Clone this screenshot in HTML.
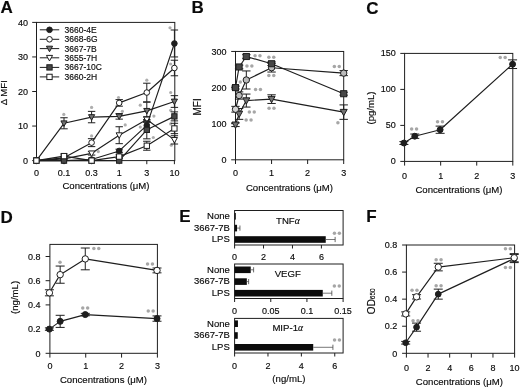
<!DOCTYPE html>
<html><head><meta charset="utf-8"><style>
html,body{margin:0;padding:0;background:#fff;}
body{width:520px;height:387px;overflow:hidden;}
svg{display:block;font-family:"Liberation Sans",sans-serif;will-change:transform;}
text{stroke:#0a0a0a;stroke-width:0.15px;}
</style></head><body>
<svg width="520" height="387" viewBox="0 0 520 387">
<rect width="520" height="387" fill="#fff"/>
<text x="0.40" y="12.79" font-size="17.0" text-anchor="start" font-weight="bold" fill="#0a0a0a">A</text>
<rect x="36.50" y="22.40" width="138.30" height="138.20" fill="none" stroke="#1e1e1e" stroke-width="1.0"/>
<line x1="32.20" y1="160.60" x2="36.50" y2="160.60" stroke="#1e1e1e" stroke-width="1.0"/>
<text x="28.00" y="163.82" font-size="9.0" text-anchor="end" font-weight="normal" fill="#0a0a0a">0</text>
<line x1="32.20" y1="126.05" x2="36.50" y2="126.05" stroke="#1e1e1e" stroke-width="1.0"/>
<text x="28.00" y="129.27" font-size="9.0" text-anchor="end" font-weight="normal" fill="#0a0a0a">10</text>
<line x1="32.20" y1="91.50" x2="36.50" y2="91.50" stroke="#1e1e1e" stroke-width="1.0"/>
<text x="28.00" y="94.72" font-size="9.0" text-anchor="end" font-weight="normal" fill="#0a0a0a">20</text>
<line x1="32.20" y1="56.95" x2="36.50" y2="56.95" stroke="#1e1e1e" stroke-width="1.0"/>
<text x="28.00" y="60.17" font-size="9.0" text-anchor="end" font-weight="normal" fill="#0a0a0a">30</text>
<line x1="32.20" y1="22.40" x2="36.50" y2="22.40" stroke="#1e1e1e" stroke-width="1.0"/>
<text x="28.00" y="25.62" font-size="9.0" text-anchor="end" font-weight="normal" fill="#0a0a0a">40</text>
<line x1="36.40" y1="160.60" x2="36.40" y2="164.20" stroke="#1e1e1e" stroke-width="1.0"/>
<text x="36.40" y="175.82" font-size="9.0" text-anchor="middle" font-weight="normal" fill="#0a0a0a">0</text>
<line x1="64.00" y1="160.60" x2="64.00" y2="164.20" stroke="#1e1e1e" stroke-width="1.0"/>
<text x="64.00" y="175.82" font-size="9.0" text-anchor="middle" font-weight="normal" fill="#0a0a0a">0.1</text>
<line x1="91.60" y1="160.60" x2="91.60" y2="164.20" stroke="#1e1e1e" stroke-width="1.0"/>
<text x="91.60" y="175.82" font-size="9.0" text-anchor="middle" font-weight="normal" fill="#0a0a0a">0.3</text>
<line x1="119.20" y1="160.60" x2="119.20" y2="164.20" stroke="#1e1e1e" stroke-width="1.0"/>
<text x="119.20" y="175.82" font-size="9.0" text-anchor="middle" font-weight="normal" fill="#0a0a0a">1</text>
<line x1="146.80" y1="160.60" x2="146.80" y2="164.20" stroke="#1e1e1e" stroke-width="1.0"/>
<text x="146.80" y="175.82" font-size="9.0" text-anchor="middle" font-weight="normal" fill="#0a0a0a">3</text>
<line x1="174.40" y1="160.60" x2="174.40" y2="164.20" stroke="#1e1e1e" stroke-width="1.0"/>
<text x="174.40" y="175.82" font-size="9.0" text-anchor="middle" font-weight="normal" fill="#0a0a0a">10</text>
<text x="106.00" y="189.44" font-size="9.6" text-anchor="middle" font-weight="normal" fill="#0a0a0a">Concentrations (&#956;M)</text>
<text transform="translate(4.00,92.70) rotate(-90)" x="0" y="3.44" font-size="9.6" text-anchor="middle" font-weight="normal" fill="#0a0a0a">&#916; MFI</text>
<circle cx="63.80" cy="114.40" r="1.6" fill="#aeaeae"/>
<circle cx="91.60" cy="107.40" r="1.6" fill="#aeaeae"/>
<circle cx="118.50" cy="97.50" r="1.6" fill="#aeaeae"/>
<circle cx="122.40" cy="111.30" r="1.6" fill="#aeaeae"/>
<circle cx="125.20" cy="124.90" r="1.6" fill="#aeaeae"/>
<circle cx="91.60" cy="135.90" r="1.6" fill="#aeaeae"/>
<circle cx="146.80" cy="80.20" r="1.6" fill="#aeaeae"/>
<circle cx="170.70" cy="64.00" r="1.6" fill="#aeaeae"/>
<circle cx="170.70" cy="92.50" r="1.6" fill="#aeaeae"/>
<circle cx="170.00" cy="27.75" r="1.6" fill="#aeaeae"/>
<circle cx="140.30" cy="105.20" r="1.6" fill="#aeaeae"/>
<circle cx="153.90" cy="116.10" r="1.6" fill="#aeaeae"/>
<circle cx="140.30" cy="127.10" r="1.6" fill="#aeaeae"/>
<circle cx="153.30" cy="137.50" r="1.6" fill="#aeaeae"/>
<circle cx="170.70" cy="110.30" r="1.6" fill="#aeaeae"/>
<circle cx="170.70" cy="123.90" r="1.6" fill="#aeaeae"/>
<circle cx="171.30" cy="145.20" r="1.6" fill="#aeaeae"/>
<circle cx="98.30" cy="151.60" r="1.6" fill="#aeaeae"/>
<polyline points="36.40,160.60 64.00,160.60 91.60,159.56 119.20,150.93 146.80,125.36 174.40,43.48" fill="none" stroke="#1e1e1e" stroke-width="1.15" stroke-linejoin="round"/>
<polyline points="36.40,160.60 64.00,157.84 91.60,142.63 119.20,102.90 146.80,92.54 174.40,68.01" fill="none" stroke="#1e1e1e" stroke-width="1.15" stroke-linejoin="round"/>
<polyline points="36.40,160.60 64.00,123.29 91.60,117.07 119.20,116.38 146.80,110.85 174.40,101.52" fill="none" stroke="#1e1e1e" stroke-width="1.15" stroke-linejoin="round"/>
<polyline points="36.40,160.60 64.00,158.87 91.60,153.34 119.20,135.21 146.80,119.49 174.40,139.87" fill="none" stroke="#1e1e1e" stroke-width="1.15" stroke-linejoin="round"/>
<polyline points="36.40,160.60 64.00,160.60 91.60,160.60 119.20,160.60 146.80,129.85 174.40,116.38" fill="none" stroke="#1e1e1e" stroke-width="1.15" stroke-linejoin="round"/>
<polyline points="36.40,160.60 64.00,156.11 91.60,160.60 119.20,156.59 146.80,145.74 174.40,128.47" fill="none" stroke="#1e1e1e" stroke-width="1.15" stroke-linejoin="round"/>
<line x1="119.20" y1="149.20" x2="119.20" y2="152.65" stroke="#1e1e1e" stroke-width="1.0"/>
<line x1="115.50" y1="149.20" x2="122.90" y2="149.20" stroke="#1e1e1e" stroke-width="1.0"/>
<line x1="115.50" y1="152.65" x2="122.90" y2="152.65" stroke="#1e1e1e" stroke-width="1.0"/>
<line x1="146.80" y1="121.90" x2="146.80" y2="128.81" stroke="#1e1e1e" stroke-width="1.0"/>
<line x1="143.10" y1="121.90" x2="150.50" y2="121.90" stroke="#1e1e1e" stroke-width="1.0"/>
<line x1="143.10" y1="128.81" x2="150.50" y2="128.81" stroke="#1e1e1e" stroke-width="1.0"/>
<line x1="174.40" y1="30.00" x2="174.40" y2="56.95" stroke="#1e1e1e" stroke-width="1.0"/>
<line x1="170.70" y1="30.00" x2="178.10" y2="30.00" stroke="#1e1e1e" stroke-width="1.0"/>
<line x1="170.70" y1="56.95" x2="178.10" y2="56.95" stroke="#1e1e1e" stroke-width="1.0"/>
<circle cx="36.40" cy="160.60" r="2.80" fill="#1e1e1e" stroke="#1e1e1e" stroke-width="1.0"/>
<circle cx="64.00" cy="160.60" r="2.80" fill="#1e1e1e" stroke="#1e1e1e" stroke-width="1.0"/>
<circle cx="91.60" cy="159.56" r="2.80" fill="#1e1e1e" stroke="#1e1e1e" stroke-width="1.0"/>
<circle cx="119.20" cy="150.93" r="2.80" fill="#1e1e1e" stroke="#1e1e1e" stroke-width="1.0"/>
<circle cx="146.80" cy="125.36" r="2.80" fill="#1e1e1e" stroke="#1e1e1e" stroke-width="1.0"/>
<circle cx="174.40" cy="43.48" r="2.80" fill="#1e1e1e" stroke="#1e1e1e" stroke-width="1.0"/>
<line x1="64.00" y1="156.11" x2="64.00" y2="159.56" stroke="#1e1e1e" stroke-width="1.0"/>
<line x1="60.30" y1="156.11" x2="67.70" y2="156.11" stroke="#1e1e1e" stroke-width="1.0"/>
<line x1="60.30" y1="159.56" x2="67.70" y2="159.56" stroke="#1e1e1e" stroke-width="1.0"/>
<line x1="91.60" y1="138.66" x2="91.60" y2="146.61" stroke="#1e1e1e" stroke-width="1.0"/>
<line x1="87.90" y1="138.66" x2="95.30" y2="138.66" stroke="#1e1e1e" stroke-width="1.0"/>
<line x1="87.90" y1="146.61" x2="95.30" y2="146.61" stroke="#1e1e1e" stroke-width="1.0"/>
<line x1="119.20" y1="99.62" x2="119.20" y2="106.18" stroke="#1e1e1e" stroke-width="1.0"/>
<line x1="115.50" y1="99.62" x2="122.90" y2="99.62" stroke="#1e1e1e" stroke-width="1.0"/>
<line x1="115.50" y1="106.18" x2="122.90" y2="106.18" stroke="#1e1e1e" stroke-width="1.0"/>
<line x1="146.80" y1="83.21" x2="146.80" y2="101.87" stroke="#1e1e1e" stroke-width="1.0"/>
<line x1="143.10" y1="83.21" x2="150.50" y2="83.21" stroke="#1e1e1e" stroke-width="1.0"/>
<line x1="143.10" y1="101.87" x2="150.50" y2="101.87" stroke="#1e1e1e" stroke-width="1.0"/>
<line x1="174.40" y1="60.23" x2="174.40" y2="75.78" stroke="#1e1e1e" stroke-width="1.0"/>
<line x1="170.70" y1="60.23" x2="178.10" y2="60.23" stroke="#1e1e1e" stroke-width="1.0"/>
<line x1="170.70" y1="75.78" x2="178.10" y2="75.78" stroke="#1e1e1e" stroke-width="1.0"/>
<circle cx="36.40" cy="160.60" r="2.80" fill="#fff" stroke="#1e1e1e" stroke-width="1.0"/>
<circle cx="64.00" cy="157.84" r="2.80" fill="#fff" stroke="#1e1e1e" stroke-width="1.0"/>
<circle cx="91.60" cy="142.63" r="2.80" fill="#fff" stroke="#1e1e1e" stroke-width="1.0"/>
<circle cx="119.20" cy="102.90" r="2.80" fill="#fff" stroke="#1e1e1e" stroke-width="1.0"/>
<circle cx="146.80" cy="92.54" r="2.80" fill="#fff" stroke="#1e1e1e" stroke-width="1.0"/>
<circle cx="174.40" cy="68.01" r="2.80" fill="#fff" stroke="#1e1e1e" stroke-width="1.0"/>
<line x1="64.00" y1="117.76" x2="64.00" y2="128.81" stroke="#1e1e1e" stroke-width="1.0"/>
<line x1="60.30" y1="117.76" x2="67.70" y2="117.76" stroke="#1e1e1e" stroke-width="1.0"/>
<line x1="60.30" y1="128.81" x2="67.70" y2="128.81" stroke="#1e1e1e" stroke-width="1.0"/>
<line x1="91.60" y1="111.37" x2="91.60" y2="122.77" stroke="#1e1e1e" stroke-width="1.0"/>
<line x1="87.90" y1="111.37" x2="95.30" y2="111.37" stroke="#1e1e1e" stroke-width="1.0"/>
<line x1="87.90" y1="122.77" x2="95.30" y2="122.77" stroke="#1e1e1e" stroke-width="1.0"/>
<line x1="119.20" y1="113.61" x2="119.20" y2="119.14" stroke="#1e1e1e" stroke-width="1.0"/>
<line x1="115.50" y1="113.61" x2="122.90" y2="113.61" stroke="#1e1e1e" stroke-width="1.0"/>
<line x1="115.50" y1="119.14" x2="122.90" y2="119.14" stroke="#1e1e1e" stroke-width="1.0"/>
<line x1="146.80" y1="102.21" x2="146.80" y2="119.49" stroke="#1e1e1e" stroke-width="1.0"/>
<line x1="143.10" y1="102.21" x2="150.50" y2="102.21" stroke="#1e1e1e" stroke-width="1.0"/>
<line x1="143.10" y1="119.49" x2="150.50" y2="119.49" stroke="#1e1e1e" stroke-width="1.0"/>
<line x1="174.40" y1="95.65" x2="174.40" y2="107.39" stroke="#1e1e1e" stroke-width="1.0"/>
<line x1="170.70" y1="95.65" x2="178.10" y2="95.65" stroke="#1e1e1e" stroke-width="1.0"/>
<line x1="170.70" y1="107.39" x2="178.10" y2="107.39" stroke="#1e1e1e" stroke-width="1.0"/>
<polygon points="33.32,158.20 39.48,158.20 36.40,163.74" fill="#727272" stroke="#1e1e1e" stroke-width="1.0" stroke-linejoin="miter"/>
<polygon points="60.92,120.88 67.08,120.88 64.00,126.43" fill="#727272" stroke="#1e1e1e" stroke-width="1.0" stroke-linejoin="miter"/>
<polygon points="88.52,114.66 94.68,114.66 91.60,120.21" fill="#727272" stroke="#1e1e1e" stroke-width="1.0" stroke-linejoin="miter"/>
<polygon points="116.12,113.97 122.28,113.97 119.20,119.52" fill="#727272" stroke="#1e1e1e" stroke-width="1.0" stroke-linejoin="miter"/>
<polygon points="143.72,108.45 149.88,108.45 146.80,113.99" fill="#727272" stroke="#1e1e1e" stroke-width="1.0" stroke-linejoin="miter"/>
<polygon points="171.32,99.12 177.48,99.12 174.40,104.66" fill="#727272" stroke="#1e1e1e" stroke-width="1.0" stroke-linejoin="miter"/>
<line x1="91.60" y1="151.62" x2="91.60" y2="155.07" stroke="#1e1e1e" stroke-width="1.0"/>
<line x1="87.90" y1="151.62" x2="95.30" y2="151.62" stroke="#1e1e1e" stroke-width="1.0"/>
<line x1="87.90" y1="155.07" x2="95.30" y2="155.07" stroke="#1e1e1e" stroke-width="1.0"/>
<line x1="119.20" y1="126.74" x2="119.20" y2="143.67" stroke="#1e1e1e" stroke-width="1.0"/>
<line x1="115.50" y1="126.74" x2="122.90" y2="126.74" stroke="#1e1e1e" stroke-width="1.0"/>
<line x1="115.50" y1="143.67" x2="122.90" y2="143.67" stroke="#1e1e1e" stroke-width="1.0"/>
<line x1="146.80" y1="116.72" x2="146.80" y2="122.25" stroke="#1e1e1e" stroke-width="1.0"/>
<line x1="143.10" y1="116.72" x2="150.50" y2="116.72" stroke="#1e1e1e" stroke-width="1.0"/>
<line x1="143.10" y1="122.25" x2="150.50" y2="122.25" stroke="#1e1e1e" stroke-width="1.0"/>
<line x1="174.40" y1="135.72" x2="174.40" y2="144.02" stroke="#1e1e1e" stroke-width="1.0"/>
<line x1="170.70" y1="135.72" x2="178.10" y2="135.72" stroke="#1e1e1e" stroke-width="1.0"/>
<line x1="170.70" y1="144.02" x2="178.10" y2="144.02" stroke="#1e1e1e" stroke-width="1.0"/>
<polygon points="33.32,158.20 39.48,158.20 36.40,163.74" fill="#fff" stroke="#1e1e1e" stroke-width="1.0" stroke-linejoin="miter"/>
<polygon points="60.92,156.47 67.08,156.47 64.00,162.01" fill="#fff" stroke="#1e1e1e" stroke-width="1.0" stroke-linejoin="miter"/>
<polygon points="88.52,150.94 94.68,150.94 91.60,156.49" fill="#fff" stroke="#1e1e1e" stroke-width="1.0" stroke-linejoin="miter"/>
<polygon points="116.12,132.80 122.28,132.80 119.20,138.35" fill="#fff" stroke="#1e1e1e" stroke-width="1.0" stroke-linejoin="miter"/>
<polygon points="143.72,117.08 149.88,117.08 146.80,122.63" fill="#fff" stroke="#1e1e1e" stroke-width="1.0" stroke-linejoin="miter"/>
<polygon points="171.32,137.47 177.48,137.47 174.40,143.01" fill="#fff" stroke="#1e1e1e" stroke-width="1.0" stroke-linejoin="miter"/>
<line x1="146.80" y1="120.87" x2="146.80" y2="138.83" stroke="#1e1e1e" stroke-width="1.0"/>
<line x1="143.10" y1="120.87" x2="150.50" y2="120.87" stroke="#1e1e1e" stroke-width="1.0"/>
<line x1="143.10" y1="138.83" x2="150.50" y2="138.83" stroke="#1e1e1e" stroke-width="1.0"/>
<line x1="174.40" y1="111.88" x2="174.40" y2="120.87" stroke="#1e1e1e" stroke-width="1.0"/>
<line x1="170.70" y1="111.88" x2="178.10" y2="111.88" stroke="#1e1e1e" stroke-width="1.0"/>
<line x1="170.70" y1="120.87" x2="178.10" y2="120.87" stroke="#1e1e1e" stroke-width="1.0"/>
<rect x="33.74" y="157.94" width="5.32" height="5.32" fill="#474747" stroke="#1e1e1e" stroke-width="1.0"/>
<rect x="61.34" y="157.94" width="5.32" height="5.32" fill="#474747" stroke="#1e1e1e" stroke-width="1.0"/>
<rect x="88.94" y="157.94" width="5.32" height="5.32" fill="#474747" stroke="#1e1e1e" stroke-width="1.0"/>
<rect x="116.54" y="157.94" width="5.32" height="5.32" fill="#474747" stroke="#1e1e1e" stroke-width="1.0"/>
<rect x="144.14" y="127.19" width="5.32" height="5.32" fill="#474747" stroke="#1e1e1e" stroke-width="1.0"/>
<rect x="171.74" y="113.72" width="5.32" height="5.32" fill="#474747" stroke="#1e1e1e" stroke-width="1.0"/>
<line x1="64.00" y1="154.04" x2="64.00" y2="158.18" stroke="#1e1e1e" stroke-width="1.0"/>
<line x1="60.30" y1="154.04" x2="67.70" y2="154.04" stroke="#1e1e1e" stroke-width="1.0"/>
<line x1="60.30" y1="158.18" x2="67.70" y2="158.18" stroke="#1e1e1e" stroke-width="1.0"/>
<line x1="119.20" y1="154.86" x2="119.20" y2="158.32" stroke="#1e1e1e" stroke-width="1.0"/>
<line x1="115.50" y1="154.86" x2="122.90" y2="154.86" stroke="#1e1e1e" stroke-width="1.0"/>
<line x1="115.50" y1="158.32" x2="122.90" y2="158.32" stroke="#1e1e1e" stroke-width="1.0"/>
<line x1="146.80" y1="141.25" x2="146.80" y2="150.23" stroke="#1e1e1e" stroke-width="1.0"/>
<line x1="143.10" y1="141.25" x2="150.50" y2="141.25" stroke="#1e1e1e" stroke-width="1.0"/>
<line x1="143.10" y1="150.23" x2="150.50" y2="150.23" stroke="#1e1e1e" stroke-width="1.0"/>
<line x1="174.40" y1="123.29" x2="174.40" y2="133.65" stroke="#1e1e1e" stroke-width="1.0"/>
<line x1="170.70" y1="123.29" x2="178.10" y2="123.29" stroke="#1e1e1e" stroke-width="1.0"/>
<line x1="170.70" y1="133.65" x2="178.10" y2="133.65" stroke="#1e1e1e" stroke-width="1.0"/>
<rect x="33.74" y="157.94" width="5.32" height="5.32" fill="#fff" stroke="#1e1e1e" stroke-width="1.0"/>
<rect x="61.34" y="153.45" width="5.32" height="5.32" fill="#fff" stroke="#1e1e1e" stroke-width="1.0"/>
<rect x="88.94" y="157.94" width="5.32" height="5.32" fill="#fff" stroke="#1e1e1e" stroke-width="1.0"/>
<rect x="116.54" y="153.93" width="5.32" height="5.32" fill="#fff" stroke="#1e1e1e" stroke-width="1.0"/>
<rect x="144.14" y="143.08" width="5.32" height="5.32" fill="#fff" stroke="#1e1e1e" stroke-width="1.0"/>
<rect x="171.74" y="125.81" width="5.32" height="5.32" fill="#fff" stroke="#1e1e1e" stroke-width="1.0"/>
<line x1="39.80" y1="29.80" x2="59.20" y2="29.80" stroke="#1e1e1e" stroke-width="1.0"/>
<circle cx="49.50" cy="29.80" r="2.80" fill="#1e1e1e" stroke="#1e1e1e" stroke-width="1.0"/>
<text x="64.60" y="32.84" font-size="8.5" text-anchor="start" font-weight="normal" fill="#0a0a0a">3660-4E</text>
<line x1="39.80" y1="39.30" x2="59.20" y2="39.30" stroke="#1e1e1e" stroke-width="1.0"/>
<circle cx="49.50" cy="39.30" r="2.80" fill="#fff" stroke="#1e1e1e" stroke-width="1.0"/>
<text x="64.60" y="42.34" font-size="8.5" text-anchor="start" font-weight="normal" fill="#0a0a0a">3668-6G</text>
<line x1="39.80" y1="48.60" x2="59.20" y2="48.60" stroke="#1e1e1e" stroke-width="1.0"/>
<polygon points="46.42,46.20 52.58,46.20 49.50,51.74" fill="#727272" stroke="#1e1e1e" stroke-width="1.0" stroke-linejoin="miter"/>
<text x="64.60" y="51.64" font-size="8.5" text-anchor="start" font-weight="normal" fill="#0a0a0a">3667-7B</text>
<line x1="39.80" y1="57.80" x2="59.20" y2="57.80" stroke="#1e1e1e" stroke-width="1.0"/>
<polygon points="46.42,55.40 52.58,55.40 49.50,60.94" fill="#fff" stroke="#1e1e1e" stroke-width="1.0" stroke-linejoin="miter"/>
<text x="64.60" y="60.84" font-size="8.5" text-anchor="start" font-weight="normal" fill="#0a0a0a">3655-7H</text>
<line x1="39.80" y1="67.40" x2="59.20" y2="67.40" stroke="#1e1e1e" stroke-width="1.0"/>
<rect x="46.84" y="64.74" width="5.32" height="5.32" fill="#474747" stroke="#1e1e1e" stroke-width="1.0"/>
<text x="64.60" y="70.44" font-size="8.5" text-anchor="start" font-weight="normal" fill="#0a0a0a">3667-10C</text>
<line x1="39.80" y1="76.90" x2="59.20" y2="76.90" stroke="#1e1e1e" stroke-width="1.0"/>
<rect x="46.84" y="74.24" width="5.32" height="5.32" fill="#fff" stroke="#1e1e1e" stroke-width="1.0"/>
<text x="64.60" y="79.94" font-size="8.5" text-anchor="start" font-weight="normal" fill="#0a0a0a">3660-2H</text>
<text x="191.60" y="12.79" font-size="17.0" text-anchor="start" font-weight="bold" fill="#0a0a0a">B</text>
<rect x="235.50" y="51.45" width="108.20" height="108.35" fill="none" stroke="#1e1e1e" stroke-width="1.0"/>
<line x1="231.20" y1="159.80" x2="235.50" y2="159.80" stroke="#1e1e1e" stroke-width="1.0"/>
<text x="226.50" y="163.02" font-size="9.0" text-anchor="end" font-weight="normal" fill="#0a0a0a">0</text>
<line x1="231.20" y1="123.68" x2="235.50" y2="123.68" stroke="#1e1e1e" stroke-width="1.0"/>
<text x="226.50" y="126.91" font-size="9.0" text-anchor="end" font-weight="normal" fill="#0a0a0a">100</text>
<line x1="231.20" y1="87.57" x2="235.50" y2="87.57" stroke="#1e1e1e" stroke-width="1.0"/>
<text x="226.50" y="90.79" font-size="9.0" text-anchor="end" font-weight="normal" fill="#0a0a0a">200</text>
<line x1="231.20" y1="51.45" x2="235.50" y2="51.45" stroke="#1e1e1e" stroke-width="1.0"/>
<text x="226.50" y="54.67" font-size="9.0" text-anchor="end" font-weight="normal" fill="#0a0a0a">300</text>
<line x1="235.50" y1="159.80" x2="235.50" y2="164.00" stroke="#1e1e1e" stroke-width="1.0"/>
<text x="235.50" y="175.82" font-size="9.0" text-anchor="middle" font-weight="normal" fill="#0a0a0a">0</text>
<line x1="271.57" y1="159.80" x2="271.57" y2="164.00" stroke="#1e1e1e" stroke-width="1.0"/>
<text x="271.57" y="175.82" font-size="9.0" text-anchor="middle" font-weight="normal" fill="#0a0a0a">1</text>
<line x1="307.63" y1="159.80" x2="307.63" y2="164.00" stroke="#1e1e1e" stroke-width="1.0"/>
<text x="307.63" y="175.82" font-size="9.0" text-anchor="middle" font-weight="normal" fill="#0a0a0a">2</text>
<line x1="343.70" y1="159.80" x2="343.70" y2="164.00" stroke="#1e1e1e" stroke-width="1.0"/>
<text x="343.70" y="175.82" font-size="9.0" text-anchor="middle" font-weight="normal" fill="#0a0a0a">3</text>
<text x="289.50" y="191.04" font-size="9.6" text-anchor="middle" font-weight="normal" fill="#0a0a0a">Concentrations (&#956;M)</text>
<text transform="translate(197.30,106.90) rotate(-90)" x="0" y="3.58" font-size="10.0" text-anchor="middle" font-weight="normal" fill="#0a0a0a">MFI</text>
<circle cx="255.05" cy="55.80" r="1.75" fill="#a6a6a6"/>
<circle cx="259.95" cy="55.80" r="1.75" fill="#a6a6a6"/>
<circle cx="246.95" cy="66.10" r="1.75" fill="#a6a6a6"/>
<circle cx="251.85" cy="66.10" r="1.75" fill="#a6a6a6"/>
<circle cx="268.85" cy="57.30" r="1.75" fill="#a6a6a6"/>
<circle cx="273.75" cy="57.30" r="1.75" fill="#a6a6a6"/>
<circle cx="268.85" cy="75.40" r="1.75" fill="#a6a6a6"/>
<circle cx="273.75" cy="75.40" r="1.75" fill="#a6a6a6"/>
<circle cx="255.55" cy="89.40" r="1.75" fill="#a6a6a6"/>
<circle cx="260.45" cy="89.40" r="1.75" fill="#a6a6a6"/>
<circle cx="249.35" cy="112.10" r="1.75" fill="#a6a6a6"/>
<circle cx="254.25" cy="112.10" r="1.75" fill="#a6a6a6"/>
<circle cx="246.15" cy="119.90" r="1.75" fill="#a6a6a6"/>
<circle cx="251.05" cy="119.90" r="1.75" fill="#a6a6a6"/>
<circle cx="269.05" cy="108.30" r="1.75" fill="#a6a6a6"/>
<circle cx="273.95" cy="108.30" r="1.75" fill="#a6a6a6"/>
<circle cx="334.35" cy="66.60" r="1.75" fill="#a6a6a6"/>
<circle cx="339.25" cy="66.60" r="1.75" fill="#a6a6a6"/>
<circle cx="240.30" cy="81.90" r="1.75" fill="#a6a6a6"/>
<circle cx="337.90" cy="122.80" r="1.75" fill="#a6a6a6"/>
<polyline points="235.50,124.77 239.11,113.93 246.32,100.57 271.57,99.12 343.70,112.13" fill="none" stroke="#1e1e1e" stroke-width="1.15" stroke-linejoin="round"/>
<polyline points="235.50,109.24 239.11,95.51 246.32,79.98 271.57,67.70 343.70,73.12" fill="none" stroke="#1e1e1e" stroke-width="1.15" stroke-linejoin="round"/>
<polyline points="235.50,87.57 239.11,66.98 246.32,56.51 271.57,63.73 343.70,93.71" fill="none" stroke="#1e1e1e" stroke-width="1.15" stroke-linejoin="round"/>
<line x1="235.50" y1="122.96" x2="235.50" y2="126.57" stroke="#1e1e1e" stroke-width="1.0"/>
<line x1="231.30" y1="122.96" x2="239.70" y2="122.96" stroke="#1e1e1e" stroke-width="1.0"/>
<line x1="231.30" y1="126.57" x2="239.70" y2="126.57" stroke="#1e1e1e" stroke-width="1.0"/>
<line x1="239.11" y1="108.51" x2="239.11" y2="119.35" stroke="#1e1e1e" stroke-width="1.0"/>
<line x1="234.91" y1="108.51" x2="243.31" y2="108.51" stroke="#1e1e1e" stroke-width="1.0"/>
<line x1="234.91" y1="119.35" x2="243.31" y2="119.35" stroke="#1e1e1e" stroke-width="1.0"/>
<line x1="246.32" y1="94.07" x2="246.32" y2="107.07" stroke="#1e1e1e" stroke-width="1.0"/>
<line x1="242.12" y1="94.07" x2="250.52" y2="94.07" stroke="#1e1e1e" stroke-width="1.0"/>
<line x1="242.12" y1="107.07" x2="250.52" y2="107.07" stroke="#1e1e1e" stroke-width="1.0"/>
<line x1="271.57" y1="94.79" x2="271.57" y2="103.46" stroke="#1e1e1e" stroke-width="1.0"/>
<line x1="267.37" y1="94.79" x2="275.77" y2="94.79" stroke="#1e1e1e" stroke-width="1.0"/>
<line x1="267.37" y1="103.46" x2="275.77" y2="103.46" stroke="#1e1e1e" stroke-width="1.0"/>
<line x1="343.70" y1="104.90" x2="343.70" y2="119.35" stroke="#1e1e1e" stroke-width="1.0"/>
<line x1="339.50" y1="104.90" x2="347.90" y2="104.90" stroke="#1e1e1e" stroke-width="1.0"/>
<line x1="339.50" y1="119.35" x2="347.90" y2="119.35" stroke="#1e1e1e" stroke-width="1.0"/>
<line x1="235.50" y1="106.35" x2="235.50" y2="112.13" stroke="#1e1e1e" stroke-width="1.0"/>
<line x1="231.30" y1="106.35" x2="239.70" y2="106.35" stroke="#1e1e1e" stroke-width="1.0"/>
<line x1="231.30" y1="112.13" x2="239.70" y2="112.13" stroke="#1e1e1e" stroke-width="1.0"/>
<line x1="239.11" y1="91.90" x2="239.11" y2="99.12" stroke="#1e1e1e" stroke-width="1.0"/>
<line x1="234.91" y1="91.90" x2="243.31" y2="91.90" stroke="#1e1e1e" stroke-width="1.0"/>
<line x1="234.91" y1="99.12" x2="243.31" y2="99.12" stroke="#1e1e1e" stroke-width="1.0"/>
<line x1="246.32" y1="70.95" x2="246.32" y2="89.01" stroke="#1e1e1e" stroke-width="1.0"/>
<line x1="242.12" y1="70.95" x2="250.52" y2="70.95" stroke="#1e1e1e" stroke-width="1.0"/>
<line x1="242.12" y1="89.01" x2="250.52" y2="89.01" stroke="#1e1e1e" stroke-width="1.0"/>
<line x1="271.57" y1="63.37" x2="271.57" y2="72.04" stroke="#1e1e1e" stroke-width="1.0"/>
<line x1="267.37" y1="63.37" x2="275.77" y2="63.37" stroke="#1e1e1e" stroke-width="1.0"/>
<line x1="267.37" y1="72.04" x2="275.77" y2="72.04" stroke="#1e1e1e" stroke-width="1.0"/>
<line x1="343.70" y1="70.59" x2="343.70" y2="75.65" stroke="#1e1e1e" stroke-width="1.0"/>
<line x1="339.50" y1="70.59" x2="347.90" y2="70.59" stroke="#1e1e1e" stroke-width="1.0"/>
<line x1="339.50" y1="75.65" x2="347.90" y2="75.65" stroke="#1e1e1e" stroke-width="1.0"/>
<line x1="235.50" y1="86.12" x2="235.50" y2="89.01" stroke="#1e1e1e" stroke-width="1.0"/>
<line x1="231.30" y1="86.12" x2="239.70" y2="86.12" stroke="#1e1e1e" stroke-width="1.0"/>
<line x1="231.30" y1="89.01" x2="239.70" y2="89.01" stroke="#1e1e1e" stroke-width="1.0"/>
<line x1="239.11" y1="65.17" x2="239.11" y2="68.79" stroke="#1e1e1e" stroke-width="1.0"/>
<line x1="234.91" y1="65.17" x2="243.31" y2="65.17" stroke="#1e1e1e" stroke-width="1.0"/>
<line x1="234.91" y1="68.79" x2="243.31" y2="68.79" stroke="#1e1e1e" stroke-width="1.0"/>
<line x1="246.32" y1="54.70" x2="246.32" y2="58.31" stroke="#1e1e1e" stroke-width="1.0"/>
<line x1="242.12" y1="54.70" x2="250.52" y2="54.70" stroke="#1e1e1e" stroke-width="1.0"/>
<line x1="242.12" y1="58.31" x2="250.52" y2="58.31" stroke="#1e1e1e" stroke-width="1.0"/>
<line x1="271.57" y1="61.92" x2="271.57" y2="65.54" stroke="#1e1e1e" stroke-width="1.0"/>
<line x1="267.37" y1="61.92" x2="275.77" y2="61.92" stroke="#1e1e1e" stroke-width="1.0"/>
<line x1="267.37" y1="65.54" x2="275.77" y2="65.54" stroke="#1e1e1e" stroke-width="1.0"/>
<line x1="343.70" y1="92.26" x2="343.70" y2="95.15" stroke="#1e1e1e" stroke-width="1.0"/>
<line x1="339.50" y1="92.26" x2="347.90" y2="92.26" stroke="#1e1e1e" stroke-width="1.0"/>
<line x1="339.50" y1="95.15" x2="347.90" y2="95.15" stroke="#1e1e1e" stroke-width="1.0"/>
<polygon points="231.98,122.02 239.02,122.02 235.50,128.36" fill="#727272" stroke="#1e1e1e" stroke-width="1.0" stroke-linejoin="miter"/>
<polygon points="235.59,111.19 242.63,111.19 239.11,117.52" fill="#727272" stroke="#1e1e1e" stroke-width="1.0" stroke-linejoin="miter"/>
<polygon points="242.80,97.82 249.84,97.82 246.32,104.16" fill="#727272" stroke="#1e1e1e" stroke-width="1.0" stroke-linejoin="miter"/>
<polygon points="268.05,96.38 275.09,96.38 271.57,102.71" fill="#727272" stroke="#1e1e1e" stroke-width="1.0" stroke-linejoin="miter"/>
<polygon points="340.18,109.38 347.22,109.38 343.70,115.72" fill="#727272" stroke="#1e1e1e" stroke-width="1.0" stroke-linejoin="miter"/>
<circle cx="235.50" cy="109.24" r="3.20" fill="#d5d5d5" stroke="#1e1e1e" stroke-width="1.0"/>
<circle cx="239.11" cy="95.51" r="3.20" fill="#bbb" stroke="#1e1e1e" stroke-width="1.0"/>
<circle cx="246.32" cy="79.98" r="3.20" fill="#bbb" stroke="#1e1e1e" stroke-width="1.0"/>
<circle cx="271.57" cy="67.70" r="3.20" fill="#bbb" stroke="#1e1e1e" stroke-width="1.0"/>
<circle cx="343.70" cy="73.12" r="3.20" fill="#bbb" stroke="#1e1e1e" stroke-width="1.0"/>
<rect x="232.46" y="84.53" width="6.08" height="6.08" fill="#474747" stroke="#1e1e1e" stroke-width="1.0"/>
<rect x="236.07" y="63.94" width="6.08" height="6.08" fill="#474747" stroke="#1e1e1e" stroke-width="1.0"/>
<rect x="243.28" y="53.47" width="6.08" height="6.08" fill="#474747" stroke="#1e1e1e" stroke-width="1.0"/>
<rect x="268.53" y="60.69" width="6.08" height="6.08" fill="#474747" stroke="#1e1e1e" stroke-width="1.0"/>
<rect x="340.66" y="90.67" width="6.08" height="6.08" fill="#474747" stroke="#1e1e1e" stroke-width="1.0"/>
<text x="366.30" y="13.99" font-size="17.0" text-anchor="start" font-weight="bold" fill="#0a0a0a">C</text>
<rect x="404.60" y="53.40" width="108.20" height="108.00" fill="none" stroke="#1e1e1e" stroke-width="1.0"/>
<line x1="400.30" y1="161.40" x2="404.60" y2="161.40" stroke="#1e1e1e" stroke-width="1.0"/>
<text x="395.80" y="164.02" font-size="9.0" text-anchor="end" font-weight="normal" fill="#0a0a0a">0</text>
<line x1="400.30" y1="125.40" x2="404.60" y2="125.40" stroke="#1e1e1e" stroke-width="1.0"/>
<text x="395.80" y="128.02" font-size="9.0" text-anchor="end" font-weight="normal" fill="#0a0a0a">50</text>
<line x1="400.30" y1="89.40" x2="404.60" y2="89.40" stroke="#1e1e1e" stroke-width="1.0"/>
<text x="395.80" y="92.02" font-size="9.0" text-anchor="end" font-weight="normal" fill="#0a0a0a">100</text>
<line x1="400.30" y1="53.40" x2="404.60" y2="53.40" stroke="#1e1e1e" stroke-width="1.0"/>
<text x="395.80" y="56.02" font-size="9.0" text-anchor="end" font-weight="normal" fill="#0a0a0a">150</text>
<line x1="404.60" y1="161.40" x2="404.60" y2="165.60" stroke="#1e1e1e" stroke-width="1.0"/>
<text x="404.60" y="179.02" font-size="9.0" text-anchor="middle" font-weight="normal" fill="#0a0a0a">0</text>
<line x1="440.67" y1="161.40" x2="440.67" y2="165.60" stroke="#1e1e1e" stroke-width="1.0"/>
<text x="440.67" y="179.02" font-size="9.0" text-anchor="middle" font-weight="normal" fill="#0a0a0a">1</text>
<line x1="476.73" y1="161.40" x2="476.73" y2="165.60" stroke="#1e1e1e" stroke-width="1.0"/>
<text x="476.73" y="179.02" font-size="9.0" text-anchor="middle" font-weight="normal" fill="#0a0a0a">2</text>
<line x1="512.80" y1="161.40" x2="512.80" y2="165.60" stroke="#1e1e1e" stroke-width="1.0"/>
<text x="512.80" y="179.02" font-size="9.0" text-anchor="middle" font-weight="normal" fill="#0a0a0a">3</text>
<text x="459.00" y="192.94" font-size="9.6" text-anchor="middle" font-weight="normal" fill="#0a0a0a">Concentrations (&#956;M)</text>
<text transform="translate(370.60,108.00) rotate(-90)" x="0" y="3.44" font-size="9.6" text-anchor="middle" font-weight="normal" fill="#0a0a0a">(pg/mL)</text>
<circle cx="411.65" cy="129.00" r="1.75" fill="#a6a6a6"/>
<circle cx="416.55" cy="129.00" r="1.75" fill="#a6a6a6"/>
<circle cx="437.55" cy="121.70" r="1.75" fill="#a6a6a6"/>
<circle cx="442.45" cy="121.70" r="1.75" fill="#a6a6a6"/>
<circle cx="500.25" cy="57.40" r="1.75" fill="#a6a6a6"/>
<circle cx="505.15" cy="57.40" r="1.75" fill="#a6a6a6"/>
<polyline points="403.90,143.04 414.77,136.20 440.13,129.72 512.59,64.20" fill="none" stroke="#1e1e1e" stroke-width="1.15" stroke-linejoin="round"/>
<line x1="403.90" y1="141.60" x2="403.90" y2="144.48" stroke="#1e1e1e" stroke-width="1.0"/>
<line x1="399.40" y1="141.60" x2="408.40" y2="141.60" stroke="#1e1e1e" stroke-width="1.0"/>
<line x1="399.40" y1="144.48" x2="408.40" y2="144.48" stroke="#1e1e1e" stroke-width="1.0"/>
<line x1="414.77" y1="134.04" x2="414.77" y2="138.36" stroke="#1e1e1e" stroke-width="1.0"/>
<line x1="410.27" y1="134.04" x2="419.27" y2="134.04" stroke="#1e1e1e" stroke-width="1.0"/>
<line x1="410.27" y1="138.36" x2="419.27" y2="138.36" stroke="#1e1e1e" stroke-width="1.0"/>
<line x1="440.13" y1="126.12" x2="440.13" y2="133.32" stroke="#1e1e1e" stroke-width="1.0"/>
<line x1="435.63" y1="126.12" x2="444.63" y2="126.12" stroke="#1e1e1e" stroke-width="1.0"/>
<line x1="435.63" y1="133.32" x2="444.63" y2="133.32" stroke="#1e1e1e" stroke-width="1.0"/>
<line x1="512.59" y1="59.88" x2="512.59" y2="68.52" stroke="#1e1e1e" stroke-width="1.0"/>
<line x1="508.09" y1="59.88" x2="517.09" y2="59.88" stroke="#1e1e1e" stroke-width="1.0"/>
<line x1="508.09" y1="68.52" x2="517.09" y2="68.52" stroke="#1e1e1e" stroke-width="1.0"/>
<circle cx="403.90" cy="143.04" r="2.95" fill="#1e1e1e" stroke="#1e1e1e" stroke-width="1.0"/>
<circle cx="414.77" cy="136.20" r="2.95" fill="#1e1e1e" stroke="#1e1e1e" stroke-width="1.0"/>
<circle cx="440.13" cy="129.72" r="2.95" fill="#1e1e1e" stroke="#1e1e1e" stroke-width="1.0"/>
<circle cx="512.59" cy="64.20" r="2.95" fill="#1e1e1e" stroke="#1e1e1e" stroke-width="1.0"/>
<text x="0.60" y="222.69" font-size="17.0" text-anchor="start" font-weight="bold" fill="#0a0a0a">D</text>
<rect x="49.90" y="244.40" width="107.50" height="108.90" fill="none" stroke="#1e1e1e" stroke-width="1.0"/>
<line x1="45.60" y1="353.30" x2="49.90" y2="353.30" stroke="#1e1e1e" stroke-width="1.0"/>
<text x="40.50" y="356.52" font-size="9.0" text-anchor="end" font-weight="normal" fill="#0a0a0a">0</text>
<line x1="45.60" y1="329.10" x2="49.90" y2="329.10" stroke="#1e1e1e" stroke-width="1.0"/>
<text x="40.50" y="332.32" font-size="9.0" text-anchor="end" font-weight="normal" fill="#0a0a0a">0.2</text>
<line x1="45.60" y1="304.90" x2="49.90" y2="304.90" stroke="#1e1e1e" stroke-width="1.0"/>
<text x="40.50" y="308.12" font-size="9.0" text-anchor="end" font-weight="normal" fill="#0a0a0a">0.4</text>
<line x1="45.60" y1="280.70" x2="49.90" y2="280.70" stroke="#1e1e1e" stroke-width="1.0"/>
<text x="40.50" y="283.92" font-size="9.0" text-anchor="end" font-weight="normal" fill="#0a0a0a">0.6</text>
<line x1="45.60" y1="256.50" x2="49.90" y2="256.50" stroke="#1e1e1e" stroke-width="1.0"/>
<text x="40.50" y="259.72" font-size="9.0" text-anchor="end" font-weight="normal" fill="#0a0a0a">0.8</text>
<line x1="49.90" y1="353.30" x2="49.90" y2="357.60" stroke="#1e1e1e" stroke-width="1.0"/>
<text x="49.90" y="369.42" font-size="9.0" text-anchor="middle" font-weight="normal" fill="#0a0a0a">0</text>
<line x1="85.73" y1="353.30" x2="85.73" y2="357.60" stroke="#1e1e1e" stroke-width="1.0"/>
<text x="85.73" y="369.42" font-size="9.0" text-anchor="middle" font-weight="normal" fill="#0a0a0a">1</text>
<line x1="121.57" y1="353.30" x2="121.57" y2="357.60" stroke="#1e1e1e" stroke-width="1.0"/>
<text x="121.57" y="369.42" font-size="9.0" text-anchor="middle" font-weight="normal" fill="#0a0a0a">2</text>
<line x1="157.40" y1="353.30" x2="157.40" y2="357.60" stroke="#1e1e1e" stroke-width="1.0"/>
<text x="157.40" y="369.42" font-size="9.0" text-anchor="middle" font-weight="normal" fill="#0a0a0a">3</text>
<text x="103.50" y="382.74" font-size="9.6" text-anchor="middle" font-weight="normal" fill="#0a0a0a">Concentrations (&#956;M)</text>
<text transform="translate(14.90,297.40) rotate(-90)" x="0" y="3.44" font-size="9.6" text-anchor="middle" font-weight="normal" fill="#0a0a0a">(ng/mL)</text>
<circle cx="60.00" cy="262.20" r="1.75" fill="#a6a6a6"/>
<circle cx="93.85" cy="248.40" r="1.75" fill="#a6a6a6"/>
<circle cx="98.75" cy="248.40" r="1.75" fill="#a6a6a6"/>
<circle cx="147.55" cy="263.90" r="1.75" fill="#a6a6a6"/>
<circle cx="152.45" cy="263.90" r="1.75" fill="#a6a6a6"/>
<circle cx="82.75" cy="308.10" r="1.75" fill="#a6a6a6"/>
<circle cx="87.65" cy="308.10" r="1.75" fill="#a6a6a6"/>
<circle cx="148.25" cy="311.10" r="1.75" fill="#a6a6a6"/>
<circle cx="153.15" cy="311.10" r="1.75" fill="#a6a6a6"/>
<polyline points="49.40,292.80 60.16,274.65 85.27,258.92 157.01,270.42" fill="none" stroke="#1e1e1e" stroke-width="1.15" stroke-linejoin="round"/>
<line x1="49.40" y1="289.77" x2="49.40" y2="295.83" stroke="#1e1e1e" stroke-width="1.0"/>
<line x1="44.90" y1="289.77" x2="53.90" y2="289.77" stroke="#1e1e1e" stroke-width="1.0"/>
<line x1="44.90" y1="295.83" x2="53.90" y2="295.83" stroke="#1e1e1e" stroke-width="1.0"/>
<line x1="60.16" y1="266.06" x2="60.16" y2="283.24" stroke="#1e1e1e" stroke-width="1.0"/>
<line x1="55.66" y1="266.06" x2="64.66" y2="266.06" stroke="#1e1e1e" stroke-width="1.0"/>
<line x1="55.66" y1="283.24" x2="64.66" y2="283.24" stroke="#1e1e1e" stroke-width="1.0"/>
<line x1="85.27" y1="248.03" x2="85.27" y2="269.81" stroke="#1e1e1e" stroke-width="1.0"/>
<line x1="80.77" y1="248.03" x2="89.77" y2="248.03" stroke="#1e1e1e" stroke-width="1.0"/>
<line x1="80.77" y1="269.81" x2="89.77" y2="269.81" stroke="#1e1e1e" stroke-width="1.0"/>
<line x1="157.01" y1="268.00" x2="157.01" y2="272.84" stroke="#1e1e1e" stroke-width="1.0"/>
<line x1="152.51" y1="268.00" x2="161.51" y2="268.00" stroke="#1e1e1e" stroke-width="1.0"/>
<line x1="152.51" y1="272.84" x2="161.51" y2="272.84" stroke="#1e1e1e" stroke-width="1.0"/>
<circle cx="49.40" cy="292.80" r="3.20" fill="#fff" stroke="#1e1e1e" stroke-width="1.0"/>
<circle cx="60.16" cy="274.65" r="3.20" fill="#fff" stroke="#1e1e1e" stroke-width="1.0"/>
<circle cx="85.27" cy="258.92" r="3.20" fill="#fff" stroke="#1e1e1e" stroke-width="1.0"/>
<circle cx="157.01" cy="270.42" r="3.20" fill="#fff" stroke="#1e1e1e" stroke-width="1.0"/>
<polyline points="49.40,329.10 60.16,321.36 85.27,314.58 157.01,318.57" fill="none" stroke="#1e1e1e" stroke-width="1.15" stroke-linejoin="round"/>
<line x1="49.40" y1="327.89" x2="49.40" y2="330.31" stroke="#1e1e1e" stroke-width="1.0"/>
<line x1="44.90" y1="327.89" x2="53.90" y2="327.89" stroke="#1e1e1e" stroke-width="1.0"/>
<line x1="44.90" y1="330.31" x2="53.90" y2="330.31" stroke="#1e1e1e" stroke-width="1.0"/>
<line x1="60.16" y1="315.31" x2="60.16" y2="327.41" stroke="#1e1e1e" stroke-width="1.0"/>
<line x1="55.66" y1="315.31" x2="64.66" y2="315.31" stroke="#1e1e1e" stroke-width="1.0"/>
<line x1="55.66" y1="327.41" x2="64.66" y2="327.41" stroke="#1e1e1e" stroke-width="1.0"/>
<line x1="85.27" y1="313.37" x2="85.27" y2="315.79" stroke="#1e1e1e" stroke-width="1.0"/>
<line x1="80.77" y1="313.37" x2="89.77" y2="313.37" stroke="#1e1e1e" stroke-width="1.0"/>
<line x1="80.77" y1="315.79" x2="89.77" y2="315.79" stroke="#1e1e1e" stroke-width="1.0"/>
<line x1="157.01" y1="315.91" x2="157.01" y2="321.24" stroke="#1e1e1e" stroke-width="1.0"/>
<line x1="152.51" y1="315.91" x2="161.51" y2="315.91" stroke="#1e1e1e" stroke-width="1.0"/>
<line x1="152.51" y1="321.24" x2="161.51" y2="321.24" stroke="#1e1e1e" stroke-width="1.0"/>
<circle cx="49.40" cy="329.10" r="3.00" fill="#1e1e1e" stroke="#1e1e1e" stroke-width="1.0"/>
<circle cx="60.16" cy="321.36" r="3.00" fill="#1e1e1e" stroke="#1e1e1e" stroke-width="1.0"/>
<circle cx="85.27" cy="314.58" r="3.00" fill="#1e1e1e" stroke="#1e1e1e" stroke-width="1.0"/>
<circle cx="157.01" cy="318.57" r="3.00" fill="#1e1e1e" stroke="#1e1e1e" stroke-width="1.0"/>
<text x="179.20" y="222.39" font-size="17.0" text-anchor="start" font-weight="bold" fill="#0a0a0a">E</text>
<rect x="234.60" y="210.50" width="108.50" height="34.50" fill="none" stroke="#1e1e1e" stroke-width="1.0"/>
<line x1="234.60" y1="245.00" x2="234.60" y2="248.50" stroke="#1e1e1e" stroke-width="1.0"/>
<text x="234.60" y="259.52" font-size="9.0" text-anchor="middle" font-weight="normal" fill="#0a0a0a">0</text>
<line x1="263.53" y1="245.00" x2="263.53" y2="248.50" stroke="#1e1e1e" stroke-width="1.0"/>
<text x="263.53" y="259.52" font-size="9.0" text-anchor="middle" font-weight="normal" fill="#0a0a0a">2</text>
<line x1="292.47" y1="245.00" x2="292.47" y2="248.50" stroke="#1e1e1e" stroke-width="1.0"/>
<text x="292.47" y="259.52" font-size="9.0" text-anchor="middle" font-weight="normal" fill="#0a0a0a">4</text>
<line x1="321.40" y1="245.00" x2="321.40" y2="248.50" stroke="#1e1e1e" stroke-width="1.0"/>
<text x="321.40" y="259.52" font-size="9.0" text-anchor="middle" font-weight="normal" fill="#0a0a0a">6</text>
<text x="287.90" y="224.24" font-size="9.6" text-anchor="middle" font-weight="normal" fill="#0a0a0a">TNF<tspan font-family="Liberation Serif" font-style="italic">&#945;</tspan></text>
<rect x="234.6" y="213.00" width="1.20" height="6.6" fill="#0c0c0c"/>
<text x="229.80" y="219.10" font-size="9.5" text-anchor="end" font-weight="normal" fill="#0a0a0a">None</text>
<rect x="234.6" y="224.80" width="2.46" height="6.6" fill="#0c0c0c"/>
<line x1="237.06" y1="228.10" x2="239.95" y2="228.10" stroke="#555" stroke-width="0.8"/>
<line x1="239.95" y1="225.50" x2="239.95" y2="230.70" stroke="#444" stroke-width="0.8"/>
<text x="229.80" y="230.90" font-size="9.5" text-anchor="end" font-weight="normal" fill="#0a0a0a">3667-7B</text>
<rect x="234.6" y="236.20" width="91.14" height="6.6" fill="#0c0c0c"/>
<line x1="325.74" y1="239.50" x2="335.14" y2="239.50" stroke="#555" stroke-width="0.8"/>
<line x1="335.14" y1="236.90" x2="335.14" y2="242.10" stroke="#444" stroke-width="0.8"/>
<text x="229.80" y="242.30" font-size="9.5" text-anchor="end" font-weight="normal" fill="#0a0a0a">LPS</text>
<circle cx="334.45" cy="233.30" r="1.75" fill="#a6a6a6"/>
<circle cx="339.35" cy="233.30" r="1.75" fill="#a6a6a6"/>
<rect x="234.60" y="264.00" width="108.50" height="34.50" fill="none" stroke="#1e1e1e" stroke-width="1.0"/>
<line x1="234.60" y1="298.50" x2="234.60" y2="302.00" stroke="#1e1e1e" stroke-width="1.0"/>
<text x="234.60" y="313.52" font-size="9.0" text-anchor="middle" font-weight="normal" fill="#0a0a0a">0</text>
<line x1="270.77" y1="298.50" x2="270.77" y2="302.00" stroke="#1e1e1e" stroke-width="1.0"/>
<text x="270.77" y="313.52" font-size="9.0" text-anchor="middle" font-weight="normal" fill="#0a0a0a">0.05</text>
<line x1="306.93" y1="298.50" x2="306.93" y2="302.00" stroke="#1e1e1e" stroke-width="1.0"/>
<text x="306.93" y="313.52" font-size="9.0" text-anchor="middle" font-weight="normal" fill="#0a0a0a">0.1</text>
<line x1="343.10" y1="298.50" x2="343.10" y2="302.00" stroke="#1e1e1e" stroke-width="1.0"/>
<text x="343.10" y="313.52" font-size="9.0" text-anchor="middle" font-weight="normal" fill="#0a0a0a">0.15</text>
<text x="287.70" y="277.14" font-size="9.6" text-anchor="middle" font-weight="normal" fill="#0a0a0a">VEGF</text>
<rect x="234.6" y="266.50" width="16.13" height="6.6" fill="#0c0c0c"/>
<line x1="250.73" y1="269.80" x2="253.62" y2="269.80" stroke="#555" stroke-width="0.8"/>
<line x1="253.62" y1="267.20" x2="253.62" y2="272.40" stroke="#444" stroke-width="0.8"/>
<text x="229.80" y="272.60" font-size="9.5" text-anchor="end" font-weight="normal" fill="#0a0a0a">None</text>
<rect x="234.6" y="278.30" width="12.22" height="6.6" fill="#0c0c0c"/>
<line x1="246.82" y1="281.60" x2="248.63" y2="281.60" stroke="#555" stroke-width="0.8"/>
<line x1="248.63" y1="279.00" x2="248.63" y2="284.20" stroke="#444" stroke-width="0.8"/>
<text x="229.80" y="284.40" font-size="9.5" text-anchor="end" font-weight="normal" fill="#0a0a0a">3667-7B</text>
<rect x="234.6" y="289.90" width="88.17" height="6.6" fill="#0c0c0c"/>
<line x1="322.77" y1="293.20" x2="331.82" y2="293.20" stroke="#555" stroke-width="0.8"/>
<line x1="331.82" y1="290.60" x2="331.82" y2="295.80" stroke="#444" stroke-width="0.8"/>
<text x="229.80" y="296.00" font-size="9.5" text-anchor="end" font-weight="normal" fill="#0a0a0a">LPS</text>
<circle cx="334.35" cy="286.10" r="1.75" fill="#a6a6a6"/>
<circle cx="339.25" cy="286.10" r="1.75" fill="#a6a6a6"/>
<rect x="234.60" y="318.40" width="108.50" height="34.60" fill="none" stroke="#1e1e1e" stroke-width="1.0"/>
<line x1="234.60" y1="353.00" x2="234.60" y2="356.50" stroke="#1e1e1e" stroke-width="1.0"/>
<text x="234.60" y="368.52" font-size="9.0" text-anchor="middle" font-weight="normal" fill="#0a0a0a">0</text>
<line x1="267.98" y1="353.00" x2="267.98" y2="356.50" stroke="#1e1e1e" stroke-width="1.0"/>
<text x="267.98" y="368.52" font-size="9.0" text-anchor="middle" font-weight="normal" fill="#0a0a0a">2</text>
<line x1="301.37" y1="353.00" x2="301.37" y2="356.50" stroke="#1e1e1e" stroke-width="1.0"/>
<text x="301.37" y="368.52" font-size="9.0" text-anchor="middle" font-weight="normal" fill="#0a0a0a">4</text>
<line x1="334.75" y1="353.00" x2="334.75" y2="356.50" stroke="#1e1e1e" stroke-width="1.0"/>
<text x="334.75" y="368.52" font-size="9.0" text-anchor="middle" font-weight="normal" fill="#0a0a0a">6</text>
<text x="287.70" y="331.04" font-size="9.6" text-anchor="middle" font-weight="normal" fill="#0a0a0a">MIP-1<tspan font-family="Liberation Serif" font-style="italic">&#945;</tspan></text>
<rect x="234.6" y="320.40" width="3.34" height="6.6" fill="#0c0c0c"/>
<text x="229.80" y="326.50" font-size="9.5" text-anchor="end" font-weight="normal" fill="#0a0a0a">None</text>
<rect x="234.6" y="332.20" width="3.17" height="6.6" fill="#0c0c0c"/>
<text x="229.80" y="338.30" font-size="9.5" text-anchor="end" font-weight="normal" fill="#0a0a0a">3667-7B</text>
<rect x="234.6" y="344.00" width="78.62" height="6.6" fill="#0c0c0c"/>
<line x1="313.22" y1="347.30" x2="332.92" y2="347.30" stroke="#555" stroke-width="0.8"/>
<line x1="332.92" y1="344.70" x2="332.92" y2="349.90" stroke="#444" stroke-width="0.8"/>
<text x="229.80" y="350.10" font-size="9.5" text-anchor="end" font-weight="normal" fill="#0a0a0a">LPS</text>
<circle cx="334.55" cy="340.00" r="1.75" fill="#a6a6a6"/>
<circle cx="339.45" cy="340.00" r="1.75" fill="#a6a6a6"/>
<text x="288.90" y="382.24" font-size="9.6" text-anchor="middle" font-weight="normal" fill="#0a0a0a">(ng/mL)</text>
<text x="366.30" y="222.39" font-size="17.0" text-anchor="start" font-weight="bold" fill="#0a0a0a">F</text>
<rect x="406.40" y="245.00" width="108.20" height="108.30" fill="none" stroke="#1e1e1e" stroke-width="1.0"/>
<line x1="402.10" y1="353.30" x2="406.40" y2="353.30" stroke="#1e1e1e" stroke-width="1.0"/>
<text x="397.30" y="356.52" font-size="9.0" text-anchor="end" font-weight="normal" fill="#0a0a0a">0</text>
<line x1="402.10" y1="326.23" x2="406.40" y2="326.23" stroke="#1e1e1e" stroke-width="1.0"/>
<text x="397.30" y="329.45" font-size="9.0" text-anchor="end" font-weight="normal" fill="#0a0a0a">0.2</text>
<line x1="402.10" y1="299.15" x2="406.40" y2="299.15" stroke="#1e1e1e" stroke-width="1.0"/>
<text x="397.30" y="302.37" font-size="9.0" text-anchor="end" font-weight="normal" fill="#0a0a0a">0.4</text>
<line x1="402.10" y1="272.08" x2="406.40" y2="272.08" stroke="#1e1e1e" stroke-width="1.0"/>
<text x="397.30" y="275.30" font-size="9.0" text-anchor="end" font-weight="normal" fill="#0a0a0a">0.6</text>
<line x1="402.10" y1="245.00" x2="406.40" y2="245.00" stroke="#1e1e1e" stroke-width="1.0"/>
<text x="397.30" y="248.22" font-size="9.0" text-anchor="end" font-weight="normal" fill="#0a0a0a">0.8</text>
<line x1="406.40" y1="353.30" x2="406.40" y2="357.60" stroke="#1e1e1e" stroke-width="1.0"/>
<text x="406.40" y="371.32" font-size="9.0" text-anchor="middle" font-weight="normal" fill="#0a0a0a">0</text>
<line x1="428.04" y1="353.30" x2="428.04" y2="357.60" stroke="#1e1e1e" stroke-width="1.0"/>
<text x="428.04" y="371.32" font-size="9.0" text-anchor="middle" font-weight="normal" fill="#0a0a0a">2</text>
<line x1="449.68" y1="353.30" x2="449.68" y2="357.60" stroke="#1e1e1e" stroke-width="1.0"/>
<text x="449.68" y="371.32" font-size="9.0" text-anchor="middle" font-weight="normal" fill="#0a0a0a">4</text>
<line x1="471.32" y1="353.30" x2="471.32" y2="357.60" stroke="#1e1e1e" stroke-width="1.0"/>
<text x="471.32" y="371.32" font-size="9.0" text-anchor="middle" font-weight="normal" fill="#0a0a0a">6</text>
<line x1="492.96" y1="353.30" x2="492.96" y2="357.60" stroke="#1e1e1e" stroke-width="1.0"/>
<text x="492.96" y="371.32" font-size="9.0" text-anchor="middle" font-weight="normal" fill="#0a0a0a">8</text>
<line x1="514.60" y1="353.30" x2="514.60" y2="357.60" stroke="#1e1e1e" stroke-width="1.0"/>
<text x="514.60" y="371.32" font-size="9.0" text-anchor="middle" font-weight="normal" fill="#0a0a0a">10</text>
<text x="459.40" y="384.94" font-size="9.6" text-anchor="middle" font-weight="normal" fill="#0a0a0a">Concentrations (&#956;M)</text>
<text transform="translate(370.9,301.3) rotate(-90)" x="0" y="3.6" font-size="10" text-anchor="middle" fill="#0a0a0a">OD<tspan font-size="6.4" dy="0.4">650</tspan></text>
<circle cx="412.05" cy="290.30" r="1.75" fill="#a6a6a6"/>
<circle cx="416.95" cy="290.30" r="1.75" fill="#a6a6a6"/>
<circle cx="413.05" cy="320.70" r="1.75" fill="#a6a6a6"/>
<circle cx="417.95" cy="320.70" r="1.75" fill="#a6a6a6"/>
<circle cx="436.15" cy="285.70" r="1.75" fill="#a6a6a6"/>
<circle cx="441.05" cy="285.70" r="1.75" fill="#a6a6a6"/>
<circle cx="436.15" cy="259.70" r="1.75" fill="#a6a6a6"/>
<circle cx="441.05" cy="259.70" r="1.75" fill="#a6a6a6"/>
<circle cx="505.45" cy="248.80" r="1.75" fill="#a6a6a6"/>
<circle cx="510.35" cy="248.80" r="1.75" fill="#a6a6a6"/>
<circle cx="505.45" cy="267.40" r="1.75" fill="#a6a6a6"/>
<circle cx="510.35" cy="267.40" r="1.75" fill="#a6a6a6"/>
<polyline points="405.70,342.74 416.55,327.17 438.25,294.14 514.20,258.54" fill="none" stroke="#1e1e1e" stroke-width="1.15" stroke-linejoin="round"/>
<line x1="405.70" y1="341.39" x2="405.70" y2="344.09" stroke="#1e1e1e" stroke-width="1.0"/>
<line x1="401.20" y1="341.39" x2="410.20" y2="341.39" stroke="#1e1e1e" stroke-width="1.0"/>
<line x1="401.20" y1="344.09" x2="410.20" y2="344.09" stroke="#1e1e1e" stroke-width="1.0"/>
<line x1="416.55" y1="323.11" x2="416.55" y2="331.23" stroke="#1e1e1e" stroke-width="1.0"/>
<line x1="412.05" y1="323.11" x2="421.05" y2="323.11" stroke="#1e1e1e" stroke-width="1.0"/>
<line x1="412.05" y1="331.23" x2="421.05" y2="331.23" stroke="#1e1e1e" stroke-width="1.0"/>
<line x1="438.25" y1="289.13" x2="438.25" y2="299.15" stroke="#1e1e1e" stroke-width="1.0"/>
<line x1="433.75" y1="289.13" x2="442.75" y2="289.13" stroke="#1e1e1e" stroke-width="1.0"/>
<line x1="433.75" y1="299.15" x2="442.75" y2="299.15" stroke="#1e1e1e" stroke-width="1.0"/>
<line x1="514.20" y1="254.48" x2="514.20" y2="262.60" stroke="#1e1e1e" stroke-width="1.0"/>
<line x1="509.70" y1="254.48" x2="518.70" y2="254.48" stroke="#1e1e1e" stroke-width="1.0"/>
<line x1="509.70" y1="262.60" x2="518.70" y2="262.60" stroke="#1e1e1e" stroke-width="1.0"/>
<circle cx="405.70" cy="342.74" r="2.85" fill="#1e1e1e" stroke="#1e1e1e" stroke-width="1.0"/>
<circle cx="416.55" cy="327.17" r="2.85" fill="#1e1e1e" stroke="#1e1e1e" stroke-width="1.0"/>
<circle cx="438.25" cy="294.14" r="2.85" fill="#1e1e1e" stroke="#1e1e1e" stroke-width="1.0"/>
<circle cx="514.20" cy="258.54" r="2.85" fill="#1e1e1e" stroke="#1e1e1e" stroke-width="1.0"/>
<polyline points="405.70,313.91 416.55,296.85 438.25,267.07 514.20,257.73" fill="none" stroke="#1e1e1e" stroke-width="1.15" stroke-linejoin="round"/>
<line x1="405.70" y1="311.88" x2="405.70" y2="315.94" stroke="#1e1e1e" stroke-width="1.0"/>
<line x1="401.20" y1="311.88" x2="410.20" y2="311.88" stroke="#1e1e1e" stroke-width="1.0"/>
<line x1="401.20" y1="315.94" x2="410.20" y2="315.94" stroke="#1e1e1e" stroke-width="1.0"/>
<line x1="416.55" y1="294.68" x2="416.55" y2="299.01" stroke="#1e1e1e" stroke-width="1.0"/>
<line x1="412.05" y1="294.68" x2="421.05" y2="294.68" stroke="#1e1e1e" stroke-width="1.0"/>
<line x1="412.05" y1="299.01" x2="421.05" y2="299.01" stroke="#1e1e1e" stroke-width="1.0"/>
<line x1="438.25" y1="263.28" x2="438.25" y2="270.86" stroke="#1e1e1e" stroke-width="1.0"/>
<line x1="433.75" y1="263.28" x2="442.75" y2="263.28" stroke="#1e1e1e" stroke-width="1.0"/>
<line x1="433.75" y1="270.86" x2="442.75" y2="270.86" stroke="#1e1e1e" stroke-width="1.0"/>
<line x1="514.20" y1="253.66" x2="514.20" y2="261.79" stroke="#1e1e1e" stroke-width="1.0"/>
<line x1="509.70" y1="253.66" x2="518.70" y2="253.66" stroke="#1e1e1e" stroke-width="1.0"/>
<line x1="509.70" y1="261.79" x2="518.70" y2="261.79" stroke="#1e1e1e" stroke-width="1.0"/>
<circle cx="405.70" cy="313.91" r="3.20" fill="#fff" stroke="#1e1e1e" stroke-width="1.0"/>
<circle cx="416.55" cy="296.85" r="3.20" fill="#fff" stroke="#1e1e1e" stroke-width="1.0"/>
<circle cx="438.25" cy="267.07" r="3.20" fill="#fff" stroke="#1e1e1e" stroke-width="1.0"/>
<circle cx="514.20" cy="257.73" r="3.20" fill="#fff" stroke="#1e1e1e" stroke-width="1.0"/>
</svg>
</body></html>
